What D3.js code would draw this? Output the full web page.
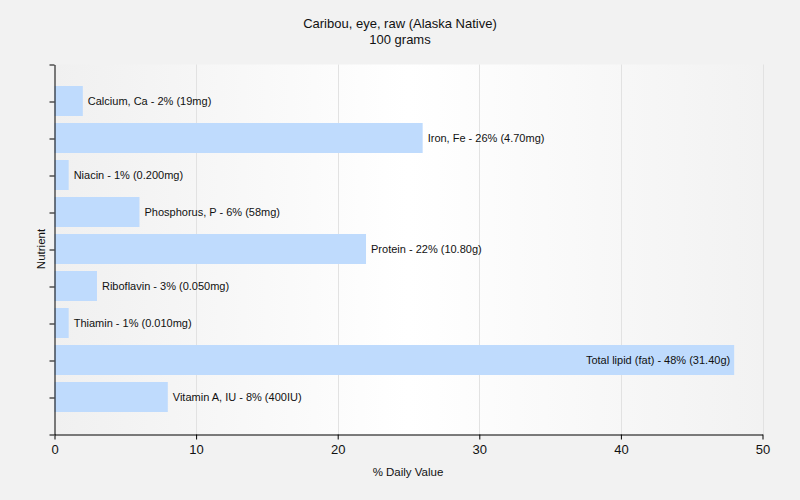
<!DOCTYPE html>
<html><head><meta charset="utf-8">
<script src="https://cdn.jsdelivr.net/npm/d3@7"></script>
<style>body{margin:0;background:#f2f2f2;} text{font-family:"Liberation Sans",Arial,sans-serif;}</style>
</head><body>
<svg id="c" width="800" height="500"></svg>
<script>
const nutrients = ["Calcium, Ca","Iron, Fe","Niacin","Phosphorus, P","Protein","Riboflavin","Thiamin","Total lipid (fat)","Vitamin A, IU"];
const values = [2,26,1,6,22,3,1,48,8];
const amounts = ["19mg","4.70mg","0.200mg","58mg","10.80g","0.050mg","0.010mg","31.40g","400IU"];
const xTicks = [0,10,20,30,40,50];

const svg = d3.select("#c");
const L=54.5, R=762.5, T=64.5, B=434.5;
const x = d3.scaleLinear().domain([0,50]).range([L,R]);
const y = d3.scaleLinear().domain([0,nutrients.length+1]).range([T,B]);

const defs = svg.append("defs");
const g = defs.append("linearGradient").attr("id","bg");
g.append("stop").attr("offset","0").attr("stop-color","#f0f0f0");
g.append("stop").attr("offset","0.5").attr("stop-color","#ffffff");
g.append("stop").attr("offset","1").attr("stop-color","#f2f2f2");
svg.append("rect").attr("x",L).attr("y",T).attr("width",R-L).attr("height",B-T).attr("fill","url(#bg)");

svg.selectAll("line.grid").data(xTicks.slice(1)).enter().append("line")
  .attr("x1",d=>Math.round(x(d))+0.5).attr("x2",d=>Math.round(x(d))+0.5).attr("y1",T).attr("y2",B)
  .attr("stroke","#e2e2e2").attr("stroke-width",1);

const bh=30;
svg.selectAll("rect.bar").data(values).enter().append("rect")
  .attr("x",x(0)).attr("y",(d,i)=>y(i+1)-bh/2-0.5).attr("width",d=>x(d)-x(0)).attr("height",bh)
  .attr("fill","#bfdbfd");

svg.selectAll("text.lbl").data(values).enter().append("text")
  .attr("x",d=> d>40 ? x(d)-4 : x(d)+5)
  .attr("text-anchor",d=> d>40 ? "end":"start")
  .attr("y",(d,i)=>y(i+1)+3.5)
  .attr("font-size","11px").attr("fill","#111")
  .text((d,i)=>`${nutrients[i]} - ${d}% (${amounts[i]})`);

// axes
const xa = svg.append("g").attr("transform",`translate(0,${B})`)
  .call(d3.axisBottom(x).tickValues(xTicks).tickSize(5).tickSizeOuter(0));
xa.select(".domain").attr("stroke","#000");
xa.selectAll("text").attr("font-size","13px").attr("fill","#111").attr("dy","0.9em").style("font-family","Liberation Sans, Arial");

const ya = svg.append("g").attr("transform",`translate(${L},0)`)
  .call(d3.axisLeft(y).tickValues(d3.range(0,nutrients.length+2)).tickSize(5).tickSizeOuter(0).tickFormat(""));
ya.select(".domain").attr("stroke","#000");

svg.append("text").attr("x",400).attr("y",28).attr("text-anchor","middle").attr("font-size","13px").attr("fill","#111").text("Caribou, eye, raw (Alaska Native)");
svg.append("text").attr("x",400).attr("y",44).attr("text-anchor","middle").attr("font-size","13px").attr("fill","#111").text("100 grams");
svg.append("text").attr("x",408).attr("y",476).attr("text-anchor","middle").attr("font-size","11.5px").attr("fill","#111").text("% Daily Value");
svg.append("text").attr("transform","translate(45,249) rotate(-90)").attr("text-anchor","middle").attr("font-size","11.5px").attr("fill","#111").text("Nutrient");
</script>
</body></html>
